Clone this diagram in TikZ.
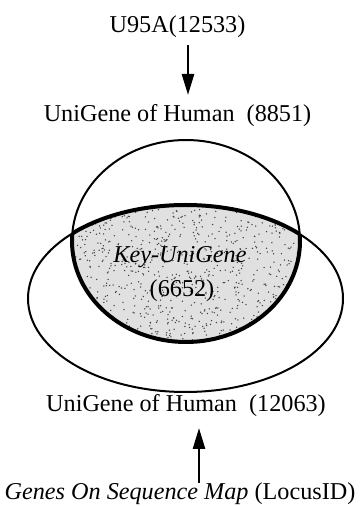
\documentclass[tikz,border=0pt]{standalone}
\usepackage{fontspec}
\setmainfont{Liberation Serif}
\usetikzlibrary{arrows.meta}
\tikzset{
  lbl/.style={anchor=base, inner sep=0pt, font=\fontsize{24.2}{27}\selectfont},
  arr/.style={line width=2.6pt, -{Triangle[length=21pt,width=12pt]}},
  thin/.style={line width=2pt},
  thick/.style={line width=4pt}
}
\begin{document}
\begin{tikzpicture}[x=1pt,y=1pt]
\useasboundingbox (0,0) rectangle (360,506);
% texts
\node[lbl] (top) at (177.5,473) {U95A(12533)};
\node[lbl] (ug1) at (177.5,384) {UniGene of Human\ \ (8851)};
\node[lbl] (ug2) at (186,94) {UniGene of Human\ \ (12063)};
\node[lbl] (genes) at (180,6) {\textit{Genes On Sequence Map} (LocusID)};
% arrows
\coordinate (a1s) at (188,461);
\coordinate (a1e) at (188,411);
\coordinate (a2s) at (199,23);
\coordinate (a2e) at (199,78);
\draw[arr] (a1s) -- (a1e);
\draw[arr] (a2s) -- (a2e);
% shapes
\coordinate (cc) at (186,265);
\coordinate (ec) at (185.5,207.5);
\begin{scope}
  \clip (cc) ellipse [x radius=114, y radius=101];
  \fill[black!12] (ec) ellipse [x radius=157.5, y radius=93.5];
  \clip (ec) ellipse [x radius=157.5, y radius=93.5];
  \pgfmathsetseed{7}
  \foreach \i in {1,...,900} {
    \pgfmathsetmacro{\px}{72+228*rnd}
    \pgfmathsetmacro{\py}{160+155*rnd}
    \fill[black!75] (\px,\py) circle (0.75);
  }
\end{scope}
\draw[thin] (cc) ellipse [x radius=114, y radius=101];
\draw[thin] (ec) ellipse [x radius=157.5, y radius=93.5];
\begin{scope}
  \clip (cc) ellipse [x radius=114, y radius=101];
  \draw[thick] (ec) ellipse [x radius=157.5, y radius=93.5];
\end{scope}
\begin{scope}
  \clip (ec) ellipse [x radius=157.5, y radius=93.5];
  \draw[thick] (cc) ellipse [x radius=114, y radius=101];
\end{scope}
\node[lbl] (key) at (180,243) {\textit{Key-UniGene}};
\node[lbl] (num) at (182,209) {(6652)};
\end{tikzpicture}
\end{document}
